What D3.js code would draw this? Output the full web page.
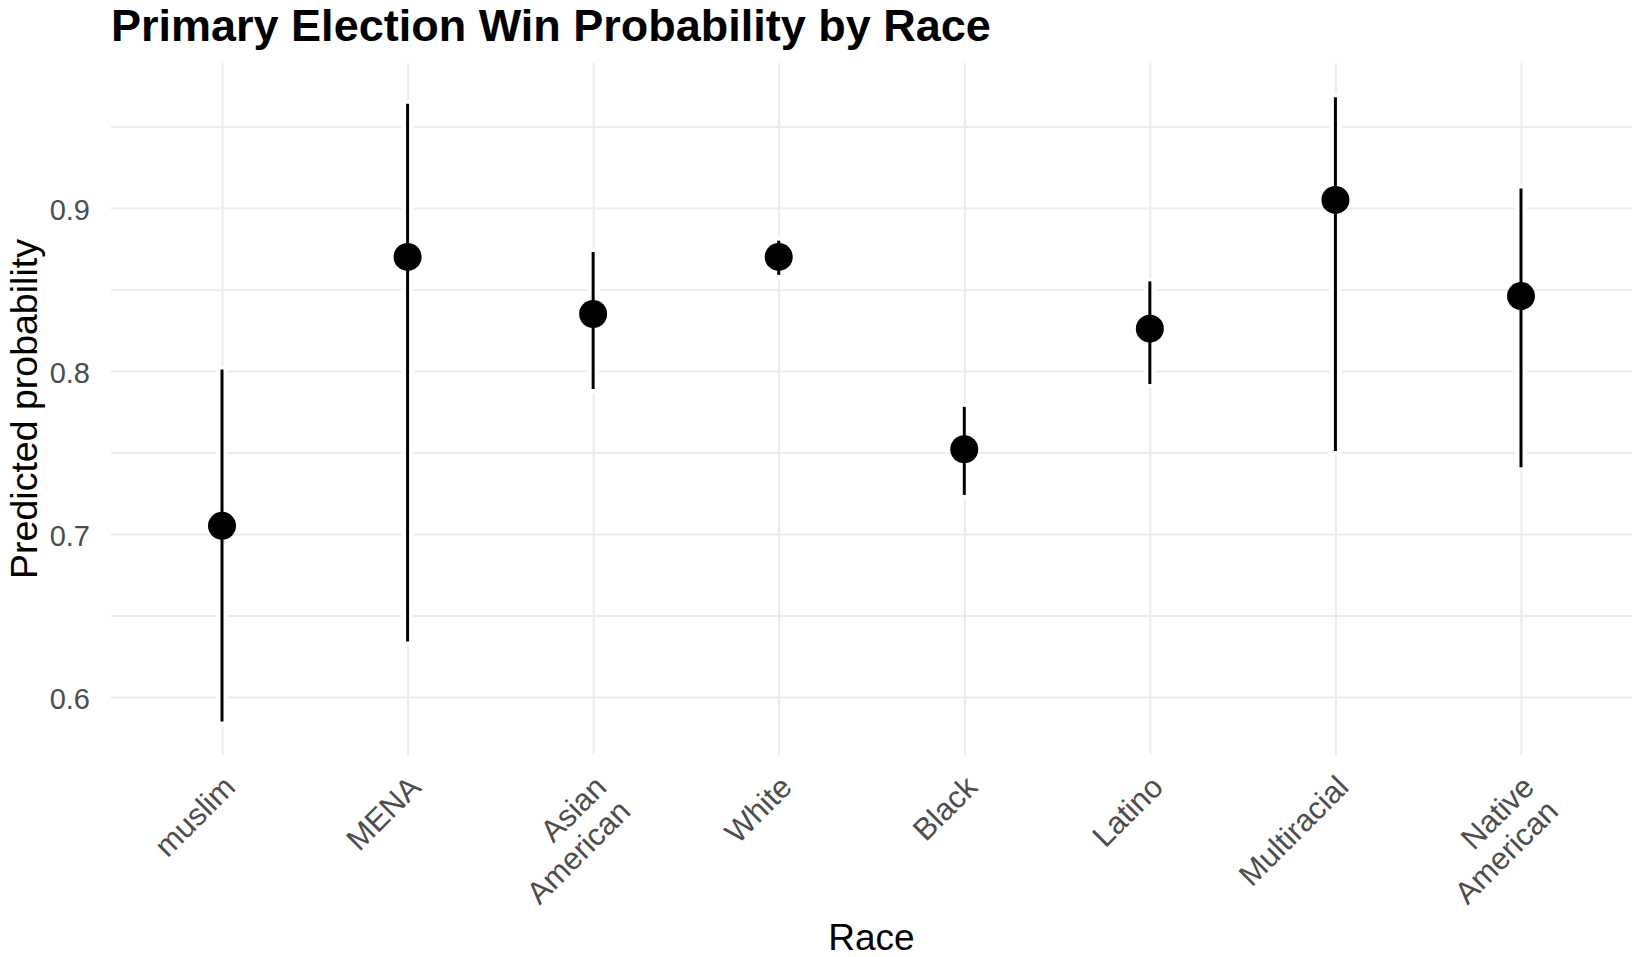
<!DOCTYPE html>
<html>
<head>
<meta charset="utf-8">
<script src="https://cdn.jsdelivr.net/npm/d3@7"></script>
<style>
  body { margin: 0; background: #fff; }
  svg text { font-family: "Liberation Sans", Arial, sans-serif; }
</style>
</head>
<body>
<svg id="chart" width="1633" height="957"></svg>
<script>
// categories and estimates
const races = ['muslim', 'MENA', 'Asian\nAmerican', 'White', 'Black', 'Latino', 'Multiracial', 'Native\nAmerican'];
const estimate = [0.705, 0.870, 0.835, 0.870, 0.752, 0.826, 0.905, 0.846];
const lower = [0.585, 0.634, 0.789, 0.859, 0.724, 0.792, 0.751, 0.741];
const upper = [0.801, 0.964, 0.873, 0.880, 0.778, 0.855, 0.968, 0.912];
const majorTicks = [0.6, 0.7, 0.8, 0.9];
const minorTicks = [0.65, 0.75, 0.85, 0.95];

const svg = d3.select('#chart');

// panel bounds
const panelLeft = 111, panelRight = 1632, panelTop = 63, panelBottom = 755;

const x = d3.scalePoint()
  .domain(races)
  .range([222, 1521]);

const y = d3.scaleLinear()
  .domain([0.5644, 0.989])
  .range([panelBottom, panelTop]);

// minor gridlines
svg.append('g')
  .attr('transform', `translate(${panelLeft},0)`)
  .call(d3.axisLeft(y).tickValues(minorTicks).tickSize(-(panelRight - panelLeft)).tickFormat(''))
  .call(g => g.select('.domain').remove())
  .call(g => g.selectAll('line').attr('stroke', '#ebebeb').attr('stroke-width', 1.8));

// major gridlines + tick labels
svg.append('g')
  .attr('transform', `translate(${panelLeft},0)`)
  .call(d3.axisLeft(y).tickValues(majorTicks).tickSize(-(panelRight - panelLeft)).tickPadding(21).tickFormat(d3.format('.1f')))
  .call(g => g.select('.domain').remove())
  .call(g => g.selectAll('line').attr('stroke', '#ebebeb').attr('stroke-width', 2))
  .call(g => g.selectAll('text')
    .attr('font-size', 29)
    .attr('fill', '#4d4d4d')
    .attr('dy', '0.4em'));

// vertical gridlines
svg.append('g')
  .attr('transform', `translate(0,${panelBottom})`)
  .call(d3.axisBottom(x).tickSize(-(panelBottom - panelTop)).tickFormat(''))
  .call(g => g.select('.domain').remove())
  .call(g => g.selectAll('line').attr('stroke', '#ebebeb').attr('stroke-width', 2));

// x tick labels, rotated 45 degrees, right aligned
const labels = svg.append('g').selectAll('g')
  .data(races)
  .enter()
  .append('g')
  .attr('transform', d => `translate(${x(d) + 15}, 789) rotate(-45)`);

labels.append('text')
  .attr('text-anchor', 'end')
  .attr('font-size', 31)
  .attr('fill', '#4d4d4d')
  .each(function(d) {
    const lines = d.split('\n');
    d3.select(this).selectAll('tspan')
      .data(lines)
      .enter()
      .append('tspan')
      .attr('x', 0)
      .attr('y', (l, i) => i * 34)
      .text(l => l);
  });

// error bars with a white halo (cuts the gridlines like the original)
const marks = svg.append('g');
races.forEach((r, i) => {
  marks.append('line')
    .attr('x1', x(r)).attr('x2', x(r))
    .attr('y1', y(lower[i]) + 4).attr('y2', y(upper[i]) - 4)
    .attr('stroke', '#fff')
    .attr('stroke-width', 12);
});
races.forEach((r, i) => {
  marks.append('line')
    .attr('x1', x(r)).attr('x2', x(r))
    .attr('y1', y(lower[i])).attr('y2', y(upper[i]))
    .attr('stroke', '#000')
    .attr('stroke-width', 3);
});

// point estimates
marks.selectAll('circle')
  .data(races)
  .enter()
  .append('circle')
  .attr('cx', d => x(d))
  .attr('cy', (d, i) => y(estimate[i]))
  .attr('r', 14)
  .attr('fill', '#000');

// title
svg.append('text')
  .attr('x', 111)
  .attr('y', 41)
  .attr('font-size', 45)
  .attr('font-weight', 'bold')
  .attr('fill', '#000')
  .text('Primary Election Win Probability by Race');

// axis titles
svg.append('text')
  .attr('transform', `translate(37, ${(panelTop + panelBottom) / 2}) rotate(-90)`)
  .attr('text-anchor', 'middle')
  .attr('font-size', 37.5)
  .attr('fill', '#000')
  .text('Predicted probability');

svg.append('text')
  .attr('x', (panelLeft + panelRight) / 2)
  .attr('y', 950)
  .attr('text-anchor', 'middle')
  .attr('font-size', 37)
  .attr('fill', '#000')
  .text('Race');
</script>
</body>
</html>
